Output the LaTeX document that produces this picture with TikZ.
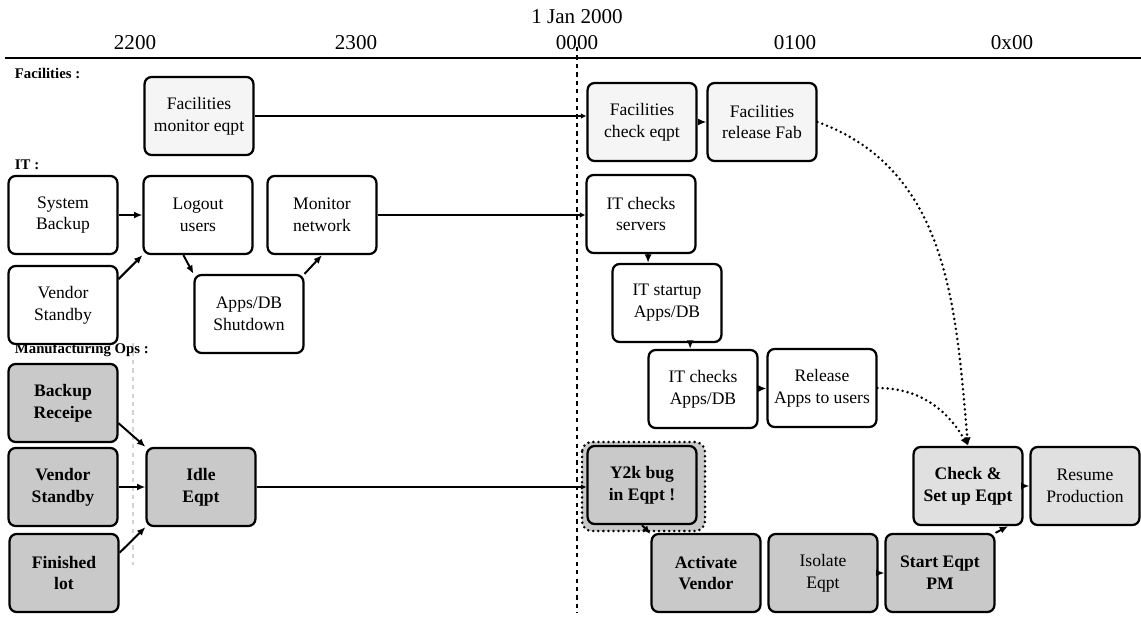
\documentclass[tikz,border=0pt]{standalone}
\usepackage{fontspec}
\setmainfont{Liberation Serif}
\usetikzlibrary{arrows.meta}

\begin{document}
\begin{tikzpicture}[x=0.025cm, y=-0.025cm, >={Latex[length=6pt,width=5pt]}]
        \tikzstyle{task}     = [shape = rectangle, draw = black, line width=1.6pt, rounded corners=5pt,
                                minimum width=2.72cm, minimum height=1.95cm, align=center,
                                font=\fontsize{12.5}{15.5}\selectfont]
        \tikzstyle{fac_task} = [task, fill = gray!8]
        \tikzstyle{it_task}  = [task, fill = white]
        \tikzstyle{mfg_task} = [task, fill = gray!42, font=\fontsize{12.5}{15.5}\selectfont\bfseries]
        \tikzstyle{mfg_done} = [task, fill = gray!24]
        \tikzstyle{lane}     = [anchor = west, font=\fontsize{10.5}{12}\selectfont\bfseries]
        \tikzstyle{tick}     = [font=\fontsize{15}{18}\selectfont]
        \tikzstyle{dots}     = [line width=2pt, line cap=round, dash pattern=on 0pt off 3.6pt]

        \useasboundingbox (0,0) rectangle (1141,622);

        % time axis
        \node[tick] at ( 577, 17) (t_day)  {1 Jan 2000};
        \node[tick] at ( 135, 43) (t2200)  {2200};
        \node[tick] at ( 356, 43) (t2300)  {2300};
        \node[tick] at ( 577, 43) (t0000)  {0000};
        \node[tick] at ( 795, 43) (t0100)  {0100};
        \node[tick] at (1012, 43) (t0x00)  {0x00};

        \draw[line width=1.5pt] (5,58) -- (1141,58);
        \draw[dashed, line width=0.8pt] (577,47) -- (577,613);
        \draw[gray!35, dashed, line width=0.8pt] (133,343) -- (133,565);

        \node[lane] at (10,  73) (lane_fac) {Facilities :};
        \node[lane] at (10, 165) (lane_it)  {IT :};
        \node[lane] at (10, 350) (lane_mfg) {Manufacturing Ops :};

        % facilities
        \node[fac_task] at (199, 116) (fac_mon)  {Facilities\\monitor eqpt};
        \node[fac_task] at (642, 122) (fac_chk)  {Facilities\\check eqpt};
        \node[fac_task] at (762, 122) (fac_rel)  {Facilities\\release Fab};

        % IT
        \node[it_task]  at ( 63, 215) (sys_bkp)  {System\\Backup};
        \node[it_task]  at (198, 215) (logout)   {Logout\\users};
        \node[it_task]  at (322, 215) (monitor)  {Monitor\\network};
        \node[it_task]  at ( 63, 305) (vend_it)  {Vendor\\Standby};
        \node[it_task]  at (249, 314) (apps_off) {Apps/DB\\Shutdown};
        \node[it_task]  at (641, 214) (it_srv)   {IT checks\\servers};
        \node[it_task]  at (667, 303) (it_start) {IT startup\\Apps/DB};
        \node[it_task]  at (703, 389) (it_chk)   {IT checks\\Apps/DB};
        \node[it_task]  at (822, 388) (rel_apps) {Release\\Apps to users};

        % manufacturing
        \draw[dots, fill = gray!42, rounded corners=7pt] (582,442) rectangle (705,531);

        \node[mfg_task] at ( 63, 403) (bkp_rcp)  {Backup\\Receipe};
        \node[mfg_task] at ( 63, 487) (vend_mfg) {Vendor\\Standby};
        \node[mfg_task] at ( 64, 573) (fin_lot)  {Finished\\lot};
        \node[mfg_task] at (201, 487) (idle)     {Idle\\Eqpt};
        \node[mfg_task] at (642, 485) (y2k)      {Y2k bug\\in Eqpt !};
        \node[mfg_task] at (706, 573) (act_vnd)  {Activate\\Vendor};
        \node[mfg_task, font=\fontsize{12.5}{15.5}\selectfont] at (823, 573) (isolate) {Isolate\\Eqpt};
        \node[mfg_task] at (940, 573) (start_pm) {Start Eqpt\\PM};
        \node[mfg_done, font=\fontsize{12.5}{15.5}\selectfont\bfseries] at (968, 486) (chk_set) {Check \&\\Set up Eqpt};
        \node[mfg_done] at (1085, 486) (resume)  {Resume\\Production};

        \path[->, line width=1.4pt]
          (sys_bkp)                edge (logout)
          (vend_it.25)             edge (logout.south west)
          (logout.-110)            edge (apps_off.north west)
          (apps_off.north east)    edge (monitor.south)
          (it_srv.-80)             edge (it_srv.-80 |- it_start.north)
          (it_start.-60)           edge (it_start.-60 |- it_chk.north)
          (it_chk)                 edge (rel_apps)
          (fac_chk)                edge (fac_rel)
          (bkp_rcp.-20)            edge (idle.north west)
          (vend_mfg)               edge (idle)
          (fin_lot.20)             edge (idle.south west)
          (y2k.south)              edge (act_vnd.145)
          (isolate)                edge (start_pm)
          (start_pm.north east)    edge (chk_set.-45)
          (chk_set)                edge (resume)
        ;

        \path[->, line width=1.4pt, >={Latex[length=4pt,width=4pt]}]
          (fac_mon.east)           edge (fac_mon.east -| fac_chk.west)
          (monitor.east)           edge (monitor.east -| it_srv.west)
          (idle.east)              edge (idle.east -| y2k.west)
        ;

        \path[->, dots]
          (fac_rel.east)           edge[out=-20, in=95]  (chk_set.north)
          (rel_apps.east)          edge[out=0,   in=120] (chk_set.north)
        ;
      \end{tikzpicture}
\end{document}
